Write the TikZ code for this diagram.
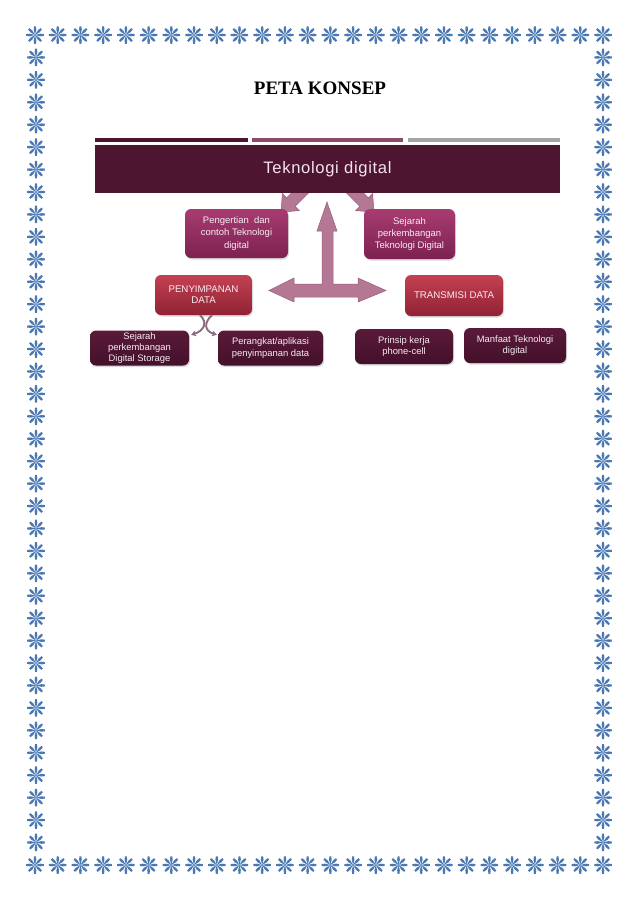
\documentclass[tikz,border=0pt]{standalone}
\usepackage{fontspec}
\setmainfont{Liberation Serif}
\newfontfamily\boxfont{Liberation Sans}
\newfontfamily\bannerfont[LetterSpace=4]{Liberation Sans}
\usetikzlibrary{arrows.meta, shadows, backgrounds}
\definecolor{starblue}{HTML}{4A78B2}
\definecolor{plumdark}{HTML}{4E1531}
\definecolor{plummid}{HTML}{8B4A70}
\definecolor{bargray}{HTML}{A5A5A5}
\definecolor{bannertext}{HTML}{F2E4EC}
\definecolor{boxtext}{HTML}{F7ECF2}
\definecolor{pinktop}{HTML}{A83C70}
\definecolor{pinkbot}{HTML}{7C2150}
\definecolor{redtop}{HTML}{C44152}
\definecolor{redbot}{HTML}{8F2234}
\definecolor{plumtop}{HTML}{5A1A39}
\definecolor{plumbot}{HTML}{43102A}
\definecolor{arrowmauve}{HTML}{B47894}
\definecolor{arrowedge}{HTML}{9A5A7A}
\definecolor{curvemauve}{HTML}{8E6A80}

\tikzset{
  bstar/.pic={\foreach \a in {0,45,...,315} \fill[starblue] (0,0) -- (\a+14:5.5) -- (\a+6:8.8) -- (\a-6:8.8) -- (\a-14:5.5) -- cycle;},
  smallarrow/.pic={\fill[arrowmauve, draw=arrowedge, line width=0.5pt] (0,-6) -- (20,-6) -- (20,-12) -- (34,0) -- (20,12) -- (20,6) -- (0,6) -- cycle;},
  conceptbox/.style={rounded corners=6pt, draw=none, text=boxtext, align=center, inner sep=0pt,
    drop shadow={shadow xshift=1pt, shadow yshift=-1.5pt, opacity=0.3}},
  pinkbox/.style={conceptbox, top color=pinktop, bottom color=pinkbot, font=\boxfont\fontsize{9.5}{12.3}\selectfont},
  redbox/.style={conceptbox, top color=redtop, bottom color=redbot, font=\boxfont\fontsize{9.7}{11}\selectfont},
  plumbox/.style={conceptbox, top color=plumtop, bottom color=plumbot, font=\boxfont\fontsize{9.4}{11.2}\selectfont},
  curvearrow/.style={curvemauve, line width=1.9pt, -{Stealth[length=5pt, width=6pt]}}
}

\begin{document}
\begin{tikzpicture}[x=1pt, y=-1pt]

    \useasboundingbox (0,0) rectangle (638,903);

    % =================================================================
    % LAYER 0: THE STAR BORDER
    % =================================================================
    \foreach \i in {0,...,25} {
        \pic at ({35+\i*22.72},35) {bstar};
        \pic at ({35+\i*22.72},865) {bstar};
    }
    \foreach \j in {1,...,36} {
        \pic at (36,{35+\j*22.43}) {bstar};
        \pic at (603,{35+\j*22.43}) {bstar};
    }

    % =================================================================
    % LAYER 1: THE TITLE
    % =================================================================
    \node[anchor=base, font=\bfseries\fontsize{19}{22}\selectfont] (title) at (320,94) {PETA KONSEP};

    % =================================================================
    % LAYER 2: THE BANNER
    % =================================================================
    \fill[plumdark] (95,138) rectangle (248,142);
    \fill[plummid] (252,138) rectangle (403,142);
    \fill[bargray] (408,138) rectangle (560,142);

    \node[fill=plumdark, minimum width=465pt, minimum height=48pt, inner sep=0pt, text=bannertext,
        font=\bannerfont\fontsize{16.6}{18}\selectfont] (banner) at (327.5,169) {Teknologi digital};

    % =================================================================
    % LAYER 3: THE CONCEPT BOXES
    % =================================================================
    \node[pinkbox, minimum width=103pt, minimum height=49pt] (pengertian) at (236.5,233.5)
        {Pengertian\ \ dan\\contoh Teknologi\\digital};
    \node[pinkbox, minimum width=91pt, minimum height=50pt] (sejarah) at (409.5,234)
        {Sejarah\\perkembangan\\Teknologi Digital};

    \node[redbox, minimum width=97pt, minimum height=40pt] (penyimpanan) at (203.5,295)
        {PENYIMPANAN\\DATA};
    \node[redbox, minimum width=98pt, minimum height=41pt] (transmisi) at (454,295.5)
        {TRANSMISI DATA};

    \node[plumbox, minimum width=99pt, minimum height=35pt] (storage) at (139.5,348)
        {Sejarah\\perkembangan\\Digital Storage};
    \node[plumbox, minimum width=105pt, minimum height=35pt] (perangkat) at (270.5,348)
        {Perangkat/aplikasi\\penyimpanan data};
    \node[plumbox, minimum width=98pt, minimum height=35pt] (prinsip) at (404,346.5)
        {Prinsip kerja\\phone-cell};
    \node[plumbox, minimum width=102pt, minimum height=35pt] (manfaat) at (515,345.5)
        {Manfaat Teknologi\\digital};

    % =================================================================
    % LAYER 4: THE ARROWS
    % =================================================================
    \begin{scope}[on background layer]
        \pic[rotate=-135] at (305,188) {smallarrow};
        \pic[rotate=-45] at (350,188) {smallarrow};
    \end{scope}

    \fill[arrowmauve, draw=arrowedge, line width=0.5pt]
        (327,202) -- (337,231) -- (333,231) -- (333,284) -- (358,284) -- (358,278)
        -- (386,290.5) -- (358,302) -- (358,297) -- (294,297) -- (294,302)
        -- (269,290.5) -- (294,278) -- (294,284) -- (322,284) -- (322,231)
        -- (317,231) -- cycle;

    \draw[curvearrow] ([xshift=-3.5pt]penyimpanan.south) .. controls +(8,7) and +(13,-4) .. ([xshift=2pt, yshift=-4.5pt]storage.north east);
    \draw[curvearrow] ([xshift=8.5pt]penyimpanan.south) .. controls +(-8,7) and +(-13,-4) .. ([xshift=-1pt, yshift=-4.5pt]perangkat.north west);

\end{tikzpicture}
\end{document}
